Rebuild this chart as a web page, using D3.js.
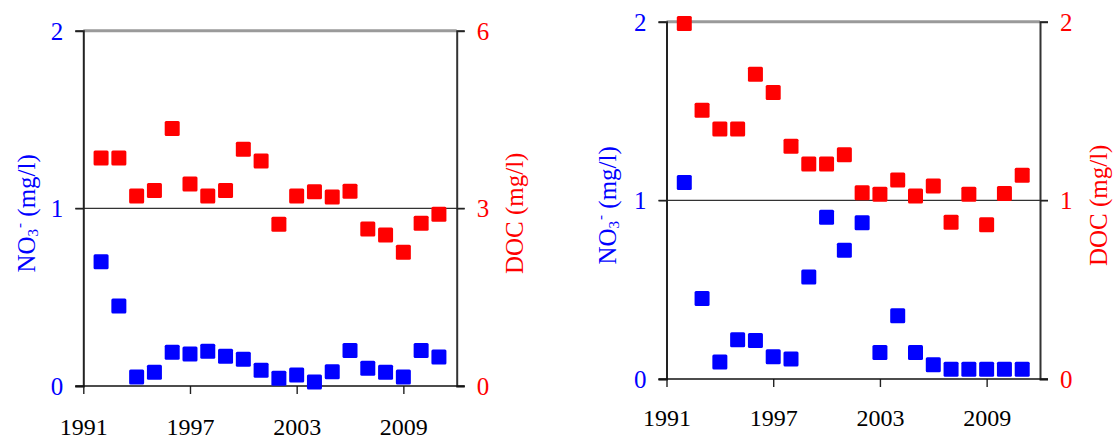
<!DOCTYPE html>
<html>
<head>
<meta charset="utf-8">
<script src="https://cdn.jsdelivr.net/npm/d3@7"></script>
<style>
  html, body { margin: 0; padding: 0; background: #fff; }
  svg { display: block; }
</style>
</head>
<body>
<svg id="chart" width="1115" height="438"></svg>
<script>
// Sampling years (one value per year)
const years = [1992, 1993, 1994, 1995, 1996, 1997, 1998, 1999, 2000, 2001,
               2002, 2003, 2004, 2005, 2006, 2007, 2008, 2009, 2010, 2011];

// Year tick labels on the x axis
const yearTicks = [1991, 1997, 2003, 2009];

// Site A: nitrate and dissolved organic carbon (mg/l)
const no3A = [0.70, 0.45, 0.05, 0.077, 0.19, 0.18, 0.195, 0.167, 0.15, 0.088,
              0.043, 0.062, 0.023, 0.08, 0.20, 0.10, 0.077, 0.05, 0.20, 0.163];
const docA = [3.85, 3.85, 3.21, 3.30, 4.35, 3.41, 3.21, 3.30, 4.00, 3.80,
              2.73, 3.21, 3.28, 3.19, 3.29, 2.65, 2.55, 2.26, 2.75, 2.90];

// Site B: nitrate and dissolved organic carbon (mg/l)
const no3B = [1.10, 0.45, 0.095, 0.22, 0.215, 0.124, 0.112, 0.571, 0.905, 0.72,
              0.875, 0.148, 0.354, 0.148, 0.08, 0.054, 0.054, 0.054, 0.054, 0.054];
const docB = [1.99, 1.504, 1.40, 1.40, 1.706, 1.603, 1.303, 1.204, 1.204, 1.255,
              1.043, 1.034, 1.114, 1.024, 1.08, 0.878, 1.034, 0.863, 1.039, 1.14];

// Left (NO3) and right (DOC) axis ticks per panel
const no3TicksA = [0, 1, 2];
const docTicksA = [0, 3, 6];
const no3TicksB = [0, 1, 2];
const docTicksB = [0, 1, 2];

const BLUE = "#0000ff";
const RED = "#ff0000";
const FONT = "Liberation Serif";
const svg = d3.select("#chart");

// Serif text helper: single family name, set both as attribute and style
function serif(sel, size) {
  return sel.attr("font-family", FONT).style("font-family", FONT)
    .attr("font-size", size).style("font-size", size + "px");
}

function drawPanel(cfg) {
  const { left, right, top, bottom } = cfg.box;
  const g = svg.append("g");

  const x = d3.scaleLinear().domain([1991, 2012]).range([left, right]);
  const yL = d3.scaleLinear().domain([0, d3.max(cfg.no3Ticks)]).range([bottom, top]);
  const yR = d3.scaleLinear().domain([0, d3.max(cfg.docTicks)]).range([bottom, top]);
  const tickLen = 8;

  // Top frame line (grey)
  g.append("line")
    .attr("x1", left).attr("x2", right)
    .attr("y1", top).attr("y2", top)
    .attr("stroke", "#9a9a9a").attr("stroke-width", 3);

  // Middle reference line spanning both tick ends
  const midVal = cfg.no3Ticks[1];
  g.append("line")
    .attr("x1", left - tickLen).attr("x2", right + tickLen)
    .attr("y1", yL(midVal)).attr("y2", yL(midVal))
    .attr("stroke", "#333").attr("stroke-width", 1.4);

  // Left axis (NO3)
  const axL = d3.axisLeft(yL).tickValues(cfg.no3Ticks).tickSize(tickLen).tickPadding(12)
    .tickFormat(d3.format("d"));
  const gL = g.append("g").attr("transform", `translate(${left},0)`).call(axL);
  serif(gL, 25);
  gL.select(".domain").attr("stroke", "#222").attr("stroke-width", 2);
  gL.selectAll(".tick line").attr("stroke", "#222").attr("stroke-width", 1.4);
  serif(gL.selectAll(".tick text"), 25).attr("fill", BLUE).attr("dy", "0.34em");

  // Right axis (DOC)
  const axR = d3.axisRight(yR).tickValues(cfg.docTicks).tickSize(tickLen).tickPadding(12)
    .tickFormat(d3.format("d"));
  const gR = g.append("g").attr("transform", `translate(${right},0)`).call(axR);
  serif(gR, 25);
  gR.select(".domain").attr("stroke", "#333").attr("stroke-width", 2);
  gR.selectAll(".tick line").attr("stroke", "#222").attr("stroke-width", 1.4);
  serif(gR.selectAll(".tick text"), 25).attr("fill", RED).attr("dy", "0.34em");

  // Bottom axis (years)
  const axB = d3.axisBottom(x).tickValues(yearTicks).tickSize(tickLen).tickPadding(0)
    .tickFormat(d3.format("d"));
  const gB = g.append("g").attr("transform", `translate(0,${bottom})`).call(axB);
  serif(gB, 24);
  gB.select(".domain").remove();
  g.append("line")
    .attr("x1", left - tickLen).attr("x2", right + tickLen)
    .attr("y1", bottom).attr("y2", bottom)
    .attr("stroke", "#111").attr("stroke-width", 1.4);
  gB.selectAll(".tick line").attr("stroke", "#222").attr("stroke-width", 1.4);
  serif(gB.selectAll(".tick text"), 24).attr("fill", "#000")
    .attr("y", cfg.labelOffset).attr("dy", 0);

  // Markers
  const size = 15;
  const pts = (vals, scale) => years.map((yr, i) => ({ yr, v: vals[i], scale }));
  g.append("g").selectAll("rect").data(pts(cfg.no3, yL)).join("rect")
    .attr("x", d => x(d.yr) - size / 2)
    .attr("y", d => d.scale(d.v) - size / 2)
    .attr("width", size).attr("height", size).attr("rx", 1.5)
    .attr("fill", BLUE);
  g.append("g").selectAll("rect").data(pts(cfg.doc, yR)).join("rect")
    .attr("x", d => x(d.yr) - size / 2)
    .attr("y", d => d.scale(d.v) - size / 2)
    .attr("width", size).attr("height", size).attr("rx", 1.5)
    .attr("fill", RED);

  // Axis titles
  const cy = (top + bottom) / 2 + 5;
  const tL = serif(g.append("text"), 25)
    .attr("transform", `translate(${left - cfg.titleGapL},${cy}) rotate(-90)`)
    .attr("text-anchor", "middle").attr("fill", BLUE);
  tL.append("tspan").text("NO");
  tL.append("tspan").text("3").attr("font-size", 15).style("font-size", "15px").attr("dy", 3);
  tL.append("tspan").text("-").attr("font-size", 15).style("font-size", "15px").attr("dy", -14).attr("dx", 1);
  tL.append("tspan").text(" (mg/l)").attr("dy", 11);

  serif(g.append("text"), 25)
    .attr("transform", `translate(${right + cfg.titleGapR},${cy}) rotate(-90)`)
    .attr("text-anchor", "middle").attr("fill", RED)
    .attr("dy", "0.34em")
    .text("DOC (mg/l)");
}

drawPanel({
  box: { left: 83.3, right: 456.7, top: 30.7, bottom: 386 },
  no3: no3A, doc: docA, no3Ticks: no3TicksA, docTicks: docTicksA,
  labelOffset: 49, titleGapL: 48, titleGapR: 58
});

drawPanel({
  box: { left: 666.5, right: 1040, top: 21.7, bottom: 379 },
  no3: no3B, doc: docB, no3Ticks: no3TicksB, docTicks: docTicksB,
  labelOffset: 47, titleGapL: 51, titleGapR: 58
});
</script>
</body>
</html>
